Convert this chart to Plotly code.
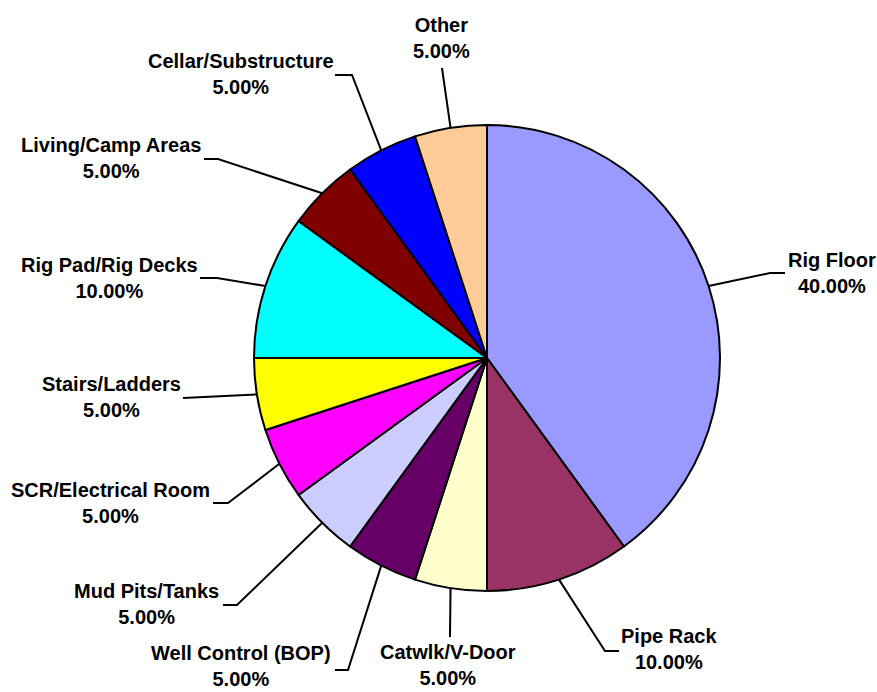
import math
import plotly.graph_objects as go

W, H = 877, 692

categories = ["Rig Floor", "Pipe Rack", "Catwlk/V-Door", "Well Control (BOP)",
              "Mud Pits/Tanks", "SCR/Electrical Room", "Stairs/Ladders",
              "Rig Pad/Rig Decks", "Living/Camp Areas", "Cellar/Substructure", "Other"]
values = [40, 10, 5, 5, 5, 5, 5, 10, 5, 5, 5]
colors = ["#9999FF", "#993366", "#FFFFCC", "#660066", "#CCCCFF", "#FF00FF",
          "#FFFF00", "#00FFFF", "#800000", "#0000FF", "#FFCC99"]

# layout (window pixels): pie centre/radius, label block centres and leader elbows
CX, CY, R = 487, 358, 233
label_pos = [(832, 273), (669, 649), (448, 665), (241, 666), (146, 604), (110, 503),
             (111, 397), (109, 278), (111, 158), (241, 74), (441, 38)]
leader_pts = [[(770, 273), (785, 273)], [(605, 651), (619, 651)], [(450, 637)],
              [(348, 670), (335, 670)], [(237, 605), (223, 605)], [(228, 503), (213, 503)],
              [(183, 398)], [(217, 278), (200, 278)], [(218, 159), (204, 159)],
              [(352, 75), (335, 75)], [(442, 68)]]


def px(x):
    return x / W


def py(y):
    return 1 - y / H


fig = go.Figure(go.Pie(
    labels=categories, values=values, sort=False, direction="clockwise", rotation=0,
    marker=dict(colors=colors, line=dict(color="black", width=2)),
    textinfo="none", hoverinfo="label+percent", showlegend=False,
    domain=dict(x=[px(CX - R), px(CX + R)], y=[py(CY + R), py(CY - R)]),
))

total = sum(values)
cum = 0
shapes, annotations = [], []
for i, (cat, v) in enumerate(zip(categories, values)):
    mid = (cum + v / 2) / total * 2 * math.pi
    cum += v
    sx = CX + R * math.sin(mid)
    sy = CY - R * math.cos(mid)
    pts = [(sx, sy)] + leader_pts[i]
    path = "M " + " L ".join(f"{px(x):.5f},{py(y):.5f}" for x, y in pts)
    shapes.append(dict(type="path", path=path, xref="paper", yref="paper",
                       line=dict(color="black", width=2)))
    lx, ly = label_pos[i]
    annotations.append(dict(
        x=px(lx), y=py(ly), xref="paper", yref="paper", showarrow=False,
        text=f"{cat}<br>{v / total * 100:.2f}%", align="center",
        xanchor="center", yanchor="middle",
        font=dict(family="Liberation Sans, Arial, sans-serif", size=20,
                  color="black", weight="bold"),
    ))

fig.update_layout(
    width=W, height=H, margin=dict(l=0, r=0, t=0, b=0),
    paper_bgcolor="white", plot_bgcolor="white",
    shapes=shapes, annotations=annotations,
)

fig.write_html("out.html", config={"displayModeBar": False},
               post_script="document.body.style.margin='0';document.body.style.overflow='hidden';")
